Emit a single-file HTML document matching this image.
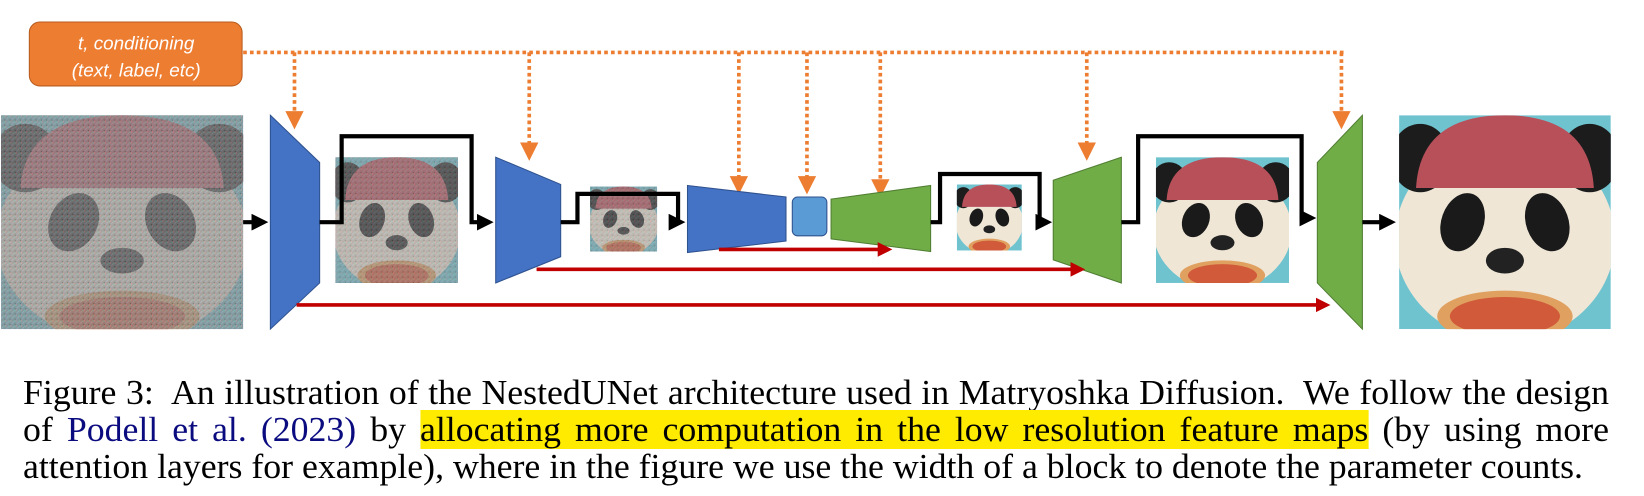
<!DOCTYPE html>
<html><head><meta charset="utf-8">
<style>
html,body{margin:0;padding:0;background:#fff;}
body{width:1644px;height:496px;position:relative;overflow:hidden;}
#cap{position:absolute;left:23px;top:374px;width:1586px;font-family:"Liberation Serif",serif;font-size:35px;color:#000;line-height:37px;transform-origin:0 0;}
#cap div{text-align:justify;text-align-last:justify;white-space:nowrap;}
#cap div.last{text-align:left;text-align-last:left;}
.hl{background:#ffeb00;}
.ref{color:#0b0b80;}
</style></head><body>
<svg width="1644" height="360" style="position:absolute;left:0;top:0" xmlns="http://www.w3.org/2000/svg">
<defs>
<symbol id="panda" viewBox="0 0 100 100" preserveAspectRatio="none">
<rect width="100" height="100" fill="#6fc3cf"/>
<ellipse cx="50" cy="58" rx="52" ry="48" fill="#efe6d6"/>
<ellipse cx="10" cy="20" rx="14" ry="16" fill="#1c1c1c"/>
<ellipse cx="90" cy="20" rx="14" ry="16" fill="#1c1c1c"/>
<path d="M8 34 Q10 0 50 0 Q90 0 92 34 Z" fill="#b8505a"/>
<ellipse cx="30" cy="50" rx="10" ry="14" fill="#1a1a1a" transform="rotate(20 30 50)"/>
<ellipse cx="70" cy="50" rx="10" ry="14" fill="#1a1a1a" transform="rotate(-20 70 50)"/>
<ellipse cx="50" cy="68" rx="9" ry="6" fill="#222"/>
<ellipse cx="50" cy="94" rx="32" ry="12" fill="#e0a060"/>
<ellipse cx="50" cy="94" rx="26" ry="9" fill="#d05a3a"/>
</symbol>
<pattern id="noise" width="5" height="5" patternUnits="userSpaceOnUse">
<rect width="5" height="5" fill="#8a8a8a"/>
<rect x="0" y="0" width="1" height="2" fill="#c08a90"/>
<rect x="3" y="1" width="2" height="1" fill="#7fb0a8"/>
<rect x="1" y="3" width="1" height="1" fill="#a0a0c8"/>
<rect x="4" y="4" width="1" height="1" fill="#555"/>
<rect x="2" y="2" width="1" height="1" fill="#b0b0b0"/>
</pattern>
<marker id="ab" markerWidth="4" markerHeight="4" refX="3" refY="2" orient="auto" markerUnits="strokeWidth"><path d="M0,0 L4,2 L0,4 Z" fill="#000"/></marker>
<marker id="ar" markerWidth="4" markerHeight="4" refX="3" refY="2" orient="auto" markerUnits="strokeWidth"><path d="M0,0 L4,2 L0,4 Z" fill="#c00000"/></marker>
<marker id="ao" markerWidth="5" markerHeight="5" refX="4" refY="2.5" orient="auto" markerUnits="strokeWidth"><path d="M0,0 L5,2.5 L0,5 Z" fill="#ed7d31"/></marker>
</defs>
<g transform="scale(1.048)">
<g>
<rect x="28" y="21" width="203" height="61" rx="10" fill="#ed7d31" stroke="#b85c1f" stroke-width="1"/>
<text x="130" y="47" fill="#fff" font-family="Liberation Sans, sans-serif" font-style="italic" font-size="18" text-anchor="middle">t, conditioning</text>
<text x="130" y="73" fill="#fff" font-family="Liberation Sans, sans-serif" font-style="italic" font-size="18" text-anchor="middle">(text,  label, etc)</text>
</g>
<g stroke="#ed7d31" stroke-width="3.5" stroke-dasharray="3.5 3" fill="none">
<line x1="232" y1="50" x2="1282" y2="50"/>
<line x1="281" y1="50" x2="281" y2="120" marker-end="url(#ao)"/>
<line x1="505" y1="50" x2="505" y2="150" marker-end="url(#ao)"/>
<line x1="705" y1="50" x2="705" y2="182" marker-end="url(#ao)"/>
<line x1="770" y1="50" x2="770" y2="182" marker-end="url(#ao)"/>
<line x1="840" y1="50" x2="840" y2="185" marker-end="url(#ao)"/>
<line x1="1037" y1="50" x2="1037" y2="150" marker-end="url(#ao)"/>
<line x1="1280" y1="50" x2="1280" y2="120" marker-end="url(#ao)"/>
</g>

<g><use href="#panda" x="1" y="110" width="231" height="204"/><rect x="1" y="110" width="231" height="204" fill="url(#noise)" opacity="0.72"/></g>
<g><use href="#panda" x="320" y="150" width="117" height="120"/><rect x="320" y="150" width="117" height="120" fill="url(#noise)" opacity="0.55"/></g>
<g><use href="#panda" x="563" y="178" width="64" height="62"/><rect x="563" y="178" width="64" height="62" fill="url(#noise)" opacity="0.5"/></g>
<use href="#panda" x="913" y="176" width="62" height="63"/>
<use href="#panda" x="1103" y="150" width="127" height="120"/>
<use href="#panda" x="1335" y="110" width="202" height="204"/>

<g stroke="#2f528f" stroke-width="1">
<polygon points="258,110 305,155 305,270 258,314" fill="#4472c4"/>
<polygon points="473,150 535,176 535,245 473,270" fill="#4472c4"/>
<polygon points="656,177 750,188 750,230 656,241" fill="#4472c4"/>
<rect x="756" y="188" width="33" height="37" rx="5" fill="#5b9bd5"/>
</g>
<g stroke="#507e32" stroke-width="1">
<polygon points="793,190 888,177 888,240 793,228" fill="#70ad47"/>
<polygon points="1005,172 1070,150 1070,270 1005,248" fill="#70ad47"/>
<polygon points="1257,155 1300,110 1300,314 1257,270" fill="#70ad47"/>
</g>

<g stroke="#000" stroke-width="4" fill="none">
<polyline points="232,212 252,212" marker-end="url(#ab)"/>
<polyline points="305,212 326,212 326,130 450,130 450,212 467,212" marker-end="url(#ab)"/>
<polyline points="535,212 551,212 551,185 647,185 647,212 650,212" marker-end="url(#ab)"/>
<polyline points="888,212 897,212 897,166 992,166 992,212 1000,212" marker-end="url(#ab)"/>
<polyline points="1070,212 1086,212 1086,130 1242,130 1242,208 1252,208" marker-end="url(#ab)"/>
<polyline points="1300,212 1328,212" marker-end="url(#ab)"/>
</g>

<g stroke="#c00000" stroke-width="3.5" fill="none">
<line x1="686" y1="238" x2="848" y2="238" marker-end="url(#ar)"/>
<line x1="512" y1="257" x2="1032" y2="257" marker-end="url(#ar)"/>
<line x1="283" y1="291" x2="1266" y2="291" marker-end="url(#ar)"/>
</g>
</g>
</svg>

<div id="cap">
<div>Figure 3:&nbsp; An illustration of the NestedUNet architecture used in Matryoshka Diffusion.&nbsp; We follow the design</div>
<div>of <span class="ref">Podell et al. (2023)</span> by <span class="hl">allocating more computation in the low resolution feature maps</span> (by using more</div>
<div class="last"><span id="l3">attention layers for example), where in the figure we use the width of a block to denote the parameter counts.</span></div>
</div>
<script>
(function(){
  var cap=document.getElementById('cap');
  var w3=document.getElementById('l3').getBoundingClientRect().width;
  var s=1560/w3;
  cap.style.transform='scale('+s+',1)';
  cap.style.width=(1586/s)+'px';
})();
</script>
</body></html>
